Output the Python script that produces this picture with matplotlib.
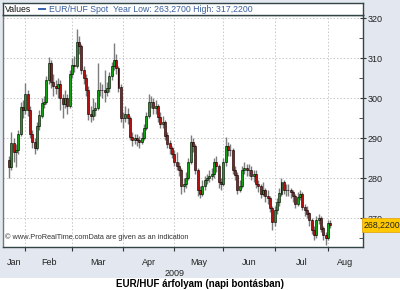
import matplotlib
matplotlib.use("Agg")
import matplotlib.pyplot as plt
import numpy as np
import pandas as pd
from matplotlib.patches import Rectangle
from matplotlib.ticker import FixedLocator, NullFormatter, MultipleLocator

plt.rcParams['font.family'] = ['Liberation Sans', 'DejaVu Sans']

# ---------------- data ----------------
start_date = "2009-01-22"
first_open = 284.5
closes = [
    282.8, 288.7, 286.5, 287.0, 291.0, 297.7, 297.0, 301.0, 297.0, 291.0,
    289.0, 287.5, 293.0, 295.7, 298.7, 299.0, 304.5, 308.7, 304.0, 303.0,
    302.5, 303.5, 300.0, 298.5, 300.0, 298.0, 306.0, 308.3, 308.0, 314.0,
    313.0, 307.0, 305.0, 302.0, 296.0, 295.5, 297.0, 297.5, 302.0, 302.0,
    302.0, 301.5, 302.5, 305.5, 308.0, 309.5, 307.5, 302.7, 295.0, 295.0,
    296.0, 295.0, 290.3, 289.5, 290.0, 289.5, 289.0, 290.0, 292.5, 295.5,
    299.0, 299.0, 297.5, 298.0, 295.3, 293.5, 294.0, 290.7, 288.7, 287.5,
    286.0, 284.0, 283.0, 282.0, 278.0, 278.5, 280.0, 284.0, 289.0, 288.0,
    282.0, 277.0, 276.2, 278.0, 279.5, 280.0, 280.5, 281.0, 284.0, 283.0,
    279.0, 278.5, 284.0, 288.0, 287.0, 287.0, 282.0, 280.8, 277.0, 278.0,
    282.0, 282.5, 282.0, 282.0, 280.5, 281.0, 278.5, 278.0, 276.0, 277.0,
    275.5, 275.0, 272.5, 269.0, 272.0, 274.0, 276.2, 279.0, 277.0, 277.0,
    277.0, 276.5, 275.5, 273.5, 275.3, 276.0, 272.8, 272.0, 271.2, 269.5,
    267.0, 265.8, 269.5, 270.0, 267.4, 265.75, 265.0, 268.7, 268.22,
]
highs = [
    285.5, 291.5, 290.0, 288.5, 292.0, 299.0, 299.5, 303.7, 302.0, 298.0,
    292.0, 290.0, 294.0, 297.0, 300.0, 300.5, 305.5, 310.2, 309.5, 306.0,
    304.5, 305.0, 304.5, 301.0, 302.0, 301.0, 307.0, 310.0, 310.5, 317.2,
    315.5, 313.5, 308.0, 306.0, 303.0, 298.0, 300.0, 299.0, 308.7, 304.0,
    303.5, 307.0, 304.0, 306.5, 309.0, 313.7, 311.0, 308.0, 303.5, 296.5,
    298.0, 297.5, 295.5, 291.5, 291.0, 291.0, 290.5, 291.5, 293.5, 296.5,
    301.0, 300.5, 300.0, 299.5, 298.5, 296.5, 295.5, 294.5, 291.5, 289.5,
    288.0, 287.0, 286.5, 284.0, 282.5, 280.0, 281.5, 285.0, 290.7, 290.0,
    288.5, 282.5, 278.0, 279.5, 280.5, 281.0, 282.0, 282.5, 285.0, 285.5,
    283.5, 280.0, 285.0, 290.3, 289.0, 288.5, 287.5, 283.0, 281.5, 279.5,
    283.0, 284.0, 283.5, 283.5, 283.0, 282.0, 282.0, 279.5, 278.5, 279.0,
    277.5, 277.0, 275.5, 273.0, 273.0, 275.0, 277.5, 280.0, 279.5, 278.5,
    278.5, 277.5, 277.0, 276.0, 276.5, 277.0, 276.5, 273.5, 273.0, 271.5,
    270.0, 268.0, 270.5, 271.0, 270.5, 268.0, 266.5, 269.5, 269.5,
]
lows = [
    280.0, 282.0, 284.0, 282.7, 286.0, 290.5, 295.0, 296.0, 295.5, 290.0,
    287.5, 286.0, 287.0, 292.0, 295.0, 297.5, 298.5, 303.5, 302.5, 300.5,
    301.0, 300.0, 297.0, 295.0, 297.5, 296.0, 297.5, 305.0, 306.5, 307.5,
    311.0, 306.0, 303.5, 300.5, 294.5, 294.0, 294.5, 295.5, 297.0, 300.5,
    300.0, 299.0, 300.5, 301.5, 304.5, 307.0, 306.0, 301.5, 294.0, 292.5,
    294.0, 293.5, 289.5, 288.0, 288.5, 288.0, 287.5, 288.5, 289.5, 292.0,
    295.0, 297.5, 296.0, 296.0, 294.0, 292.5, 292.5, 289.5, 287.5, 286.0,
    285.0, 283.0, 282.0, 280.5, 276.0, 276.5, 277.5, 279.5, 283.5, 286.5,
    281.0, 275.5, 275.0, 275.5, 277.0, 278.5, 279.0, 279.5, 280.0, 281.5,
    277.5, 277.0, 278.0, 283.0, 285.5, 285.5, 281.0, 279.5, 276.0, 276.5,
    277.5, 281.0, 280.5, 280.5, 279.5, 279.0, 277.5, 276.5, 275.0, 275.5,
    274.0, 273.5, 271.5, 267.0, 268.0, 271.0, 273.0, 275.5, 276.0, 275.5,
    275.5, 275.0, 274.0, 272.5, 273.0, 274.5, 272.0, 270.5, 270.0, 268.0,
    266.0, 264.5, 265.0, 268.5, 266.5, 264.5, 263.3, 264.5, 267.5,
]
opens = [first_open] + closes[:-1]
month_labels = ["Jan", "Feb", "Mar", "Apr", "May", "Jun", "Jul", "Aug"]
y_ticks = [270, 280, 290, 300, 310, 320]
last_label = "268,2200"
header_series = "EUR/HUF Spot"
header_stats = "Year Low: 263,2700 High: 317,2200"
year_label = "2009"
title = "EUR/HUF árfolyam (napi bontásban)"

# ---------------- figure ----------------
W, H = 400, 290
fig = plt.figure(figsize=(W / 100, H / 100), dpi=100)
fig.patch.set_facecolor("#e3e8f0")
fig.patches.append(Rectangle((0, 0), 1, 12 / H, transform=fig.transFigure,
                             facecolor="white", edgecolor="none", zorder=0))

ax = fig.add_axes([3 / W, 1 - 247 / H, 360 / W, 232 / H])
ax.set_facecolor("white")

dates = pd.bdate_range(start_date, periods=len(closes))
x = np.arange(len(closes))
o = np.array(opens); c = np.array(closes); h = np.array(highs); l = np.array(lows)
up = c >= o
green, red = "#13a013", "#b01212"

ax.vlines(x, l, h, color="#7c7c7c", linewidth=1.0, zorder=2)
ax.vlines(x, np.minimum(o, c), np.maximum(o, c), color="black", linewidth=0.5, zorder=2)
ax.bar(x, np.abs(c - o) + 0.15, bottom=np.minimum(o, c) - 0.075, width=0.85,
       color=np.where(up, green, red), edgecolor="black", linewidth=0.4, zorder=3)

ax.set_xlim(-2.6, 152)
ax.set_ylim(262.75, 320.75)

# month boundaries
months = dates.to_period("M")
bounds = [i for i in range(1, len(dates)) if months[i] != months[i - 1]]
edges = [ax.get_xlim()[0]] + bounds + [ax.get_xlim()[1]]
centers = [(edges[i] + edges[i + 1]) / 2 for i in range(len(edges) - 1)]

ax.xaxis.set_major_locator(FixedLocator(bounds))
ax.xaxis.set_major_formatter(NullFormatter())
ax.xaxis.set_minor_locator(FixedLocator(centers))
ax.set_xticklabels(month_labels[:len(centers)], minor=True)
ax.tick_params(axis="x", which="major", direction="out", length=3, color="#333333")
ax.tick_params(axis="x", which="minor", length=0, pad=8, labelsize=6.5, labelcolor="#222222")

ax.yaxis.tick_right()
ax.yaxis.set_major_locator(FixedLocator(y_ticks))
ax.yaxis.set_minor_locator(MultipleLocator(5))
ax.tick_params(axis="y", which="major", direction="inout", length=5, pad=1,
               labelsize=6.5, labelcolor="#222222", color="#333333")
ax.tick_params(axis="y", which="minor", direction="in", length=3, color="#333333")

ax.grid(True, which="major", linestyle=(0, (1.5, 2)), color="#c8c8c8", linewidth=0.7)
ax.set_axisbelow(True)
for side, sp in ax.spines.items():
    sp.set_color("#334444")
    sp.set_linewidth(1.0)
ax.spines["left"].set_color("#777777")

# watermark
ax.text(2 / 360, 0.025, "© www.ProRealTime.comData are given as an indication",
        transform=ax.transAxes, fontsize=5.3, color="#333333", va="bottom", ha="left")

# last price box
ax.text(1.003, c[-1], last_label, transform=ax.get_yaxis_transform(), fontsize=6.3,
        va="center", ha="left", color="#222222",
        bbox=dict(boxstyle="square,pad=0.25", facecolor="#ffc800", edgecolor="#e0a000", linewidth=0.5),
        clip_on=False, zorder=5)

# header
hax = fig.add_axes([3 / W, 1 - 15 / H, 360 / W, 12 / H])
hax.set_facecolor("white")
hax.set_xticks([]); hax.set_yticks([])
for sp in hax.spines.values():
    sp.set_color("#334444"); sp.set_linewidth(1.0)
hax.set_xlim(0, 360); hax.set_ylim(0, 12)
hax.text(2, 6, "Values", fontsize=6.3, va="center", ha="left", color="#111111")
hax.add_patch(Rectangle((35, 5), 8, 2.2, facecolor="#3a66b0", edgecolor="none"))
hax.text(46, 6, header_series, fontsize=6.3, va="center", ha="left", color="#3a5f9e")
hax.text(110, 6, header_stats, fontsize=6.3, va="center", ha="left", color="#3a5f9e")

fig.text(175 / W, 1 - 274 / H, year_label, fontsize=6.5, ha="center", va="center", color="#222222")
fig.text(200 / W, 1 - 284 / H, title, fontsize=7, fontweight="bold", ha="center", va="center", color="black")

fig.savefig("out.png", dpi=100, facecolor=fig.get_facecolor())
